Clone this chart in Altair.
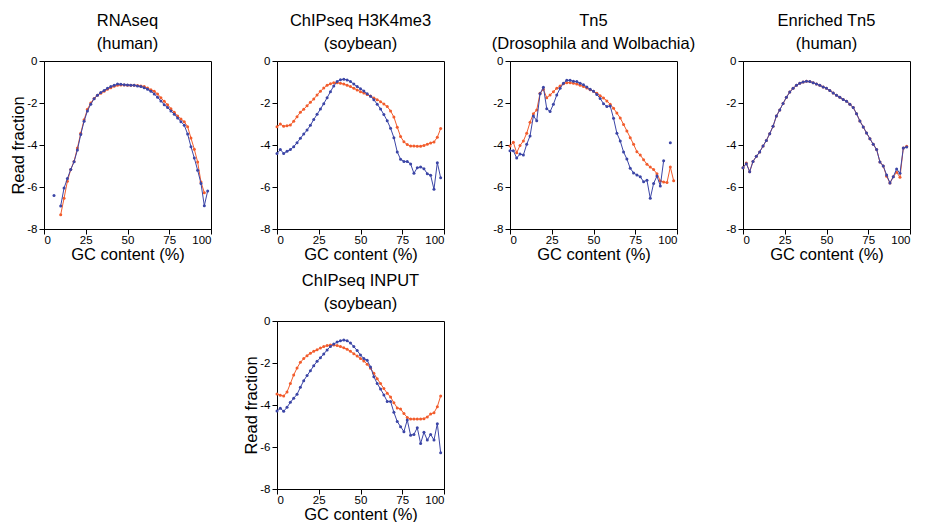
import altair as alt
import pandas as pd

GC = [0, 2, 4, 6, 8, 10, 12, 14, 16, 18, 20, 22, 24, 26, 28, 30, 32, 34, 36, 38,
      40, 42, 44, 46, 48, 50, 52, 54, 56, 58, 60, 62, 64, 66, 68, 70, 72, 74, 76, 78,
      80, 82, 84, 86, 88, 90, 92, 94, 96, 98]

TITLES = [["RNAseq", "(human)"],
          ["ChIPseq H3K4me3", "(soybean)"],
          ["Tn5", "(Drosophila and Wolbachia)"],
          ["Enriched Tn5", "(human)"],
          ["ChIPseq INPUT", "(soybean)"]]

rna_blue = [None, None, None, -6.4, None, -6.9, -6.05, -5.6, -5.17, -4.8,
            -4.24, -3.5, -2.87, -2.38, -2.06, -1.8, -1.63, -1.5, -1.4, -1.3,
            -1.22, -1.16, -1.1, -1.11, -1.13, -1.14, -1.15, -1.16, -1.19, -1.22,
            -1.27, -1.35, -1.44, -1.57, -1.73, -1.9, -2.08, -2.22, -2.38, -2.54,
            -2.71, -2.89, -3.06, -3.48, -4.08, -4.62, -5.2, -5.83, -6.89, -6.19]
rna_orange = [None, None, None, None, None, -7.32, -6.54, -5.73, -5.17, -4.78,
              -4.14, -3.44, -2.8, -2.3, -2.0, -1.78, -1.63, -1.54, -1.44, -1.35,
              -1.27, -1.2, -1.16, -1.14, -1.14, -1.15, -1.16, -1.16, -1.17, -1.19,
              -1.22, -1.29, -1.37, -1.44, -1.57, -1.75, -1.92, -2.08, -2.27, -2.44,
              -2.62, -2.76, -2.89, -3.13, -3.67, -4.2, -4.81, -5.76, -6.27, None]

k4_blue = [-4.41, -4.22, -4.4, -4.3, -4.22, -4.08, -3.89, -3.68, -3.48, -3.29,
           -3.06, -2.79, -2.54, -2.29, -2.03, -1.75, -1.46, -1.19, -0.98, -0.89,
           -0.87, -0.9, -0.98, -1.1, -1.22, -1.32, -1.43, -1.56, -1.68, -1.84,
           -2.06, -2.28, -2.55, -2.85, -3.2, -3.65, -4.33, -4.68, -4.79, -4.79,
           -4.9, -5.35, -5.08, -5.05, -5.13, -5.37, -5.44, -6.11, -4.84, -5.56]
k4_orange = [-3.13, -3.0, -3.11, -3.08, -3.05, -2.87, -2.65, -2.44, -2.3, -2.13,
             -1.97, -1.81, -1.62, -1.44, -1.29, -1.16, -1.08, -1.03, -1.03, -1.06,
             -1.1, -1.16, -1.22, -1.3, -1.38, -1.46, -1.52, -1.6, -1.67, -1.76,
             -1.84, -1.94, -2.05, -2.17, -2.38, -2.67, -3.15, -3.6, -3.85, -3.98,
             -4.05, -4.05, -4.06, -4.06, -4.02, -3.97, -3.9, -3.86, -3.63, -3.22]

tn5_blue = [-4.27, -4.27, -4.62, -4.43, -4.48, -3.97, -3.57, -2.62, -2.84, -1.56,
            -1.25, -2.27, -2.41, -2.06, -1.62, -1.3, -1.06, -0.92, -0.92, -0.97,
            -0.98, -1.06, -1.13, -1.24, -1.35, -1.44, -1.59, -1.79, -2.03, -2.17,
            -2.14, -2.73, -3.44, -3.81, -4.33, -4.67, -5.11, -5.33, -5.43, -5.51,
            -5.75, -5.68, -6.54, -5.83, -5.48, -5.95, -4.75, None, -3.89, None]
tn5_orange = [-4.05, -3.87, -4.37, -4.02, -3.81, -3.44, -2.92, -2.51, -2.33, -1.54,
              -1.35, -1.75, -1.62, -1.46, -1.3, -1.19, -1.08, -1.03, -1.03, -1.06,
              -1.1, -1.16, -1.21, -1.29, -1.37, -1.44, -1.54, -1.65, -1.76, -1.9,
              -2.06, -2.25, -2.48, -2.71, -3.02, -3.33, -3.65, -3.97, -4.32, -4.48,
              -4.7, -4.92, -5.05, -5.17, -5.37, -5.71, -5.76, -5.79, -5.05, -5.7]

etn5_blue = [-5.08, -4.89, -5.27, -4.78, -4.54, -4.33, -4.05, -3.78, -3.46, -3.11,
             -2.62, -2.33, -2.02, -1.73, -1.48, -1.3, -1.16, -1.06, -1.0, -0.97,
             -0.98, -1.03, -1.1, -1.16, -1.24, -1.3, -1.41, -1.52, -1.63, -1.73,
             -1.83, -1.92, -2.06, -2.22, -2.51, -2.86, -3.14, -3.43, -3.7, -3.97,
             -4.21, -4.81, -5.0, -5.43, -5.81, -5.51, -5.14, -5.35, -4.14, -4.1]
etn5_orange = [-5.08, -4.86, -5.27, -4.78, -4.54, -4.33, -4.05, -3.78, -3.46, -3.11,
               -2.62, -2.33, -2.02, -1.73, -1.48, -1.3, -1.16, -1.06, -1.0, -0.97,
               -0.98, -1.03, -1.1, -1.16, -1.24, -1.3, -1.41, -1.52, -1.63, -1.73,
               -1.83, -1.92, -2.06, -2.22, -2.51, -2.86, -3.14, -3.43, -3.7, -3.97,
               -4.21, -4.81, -5.0, -5.49, -5.81, -5.51, -5.3, -5.54, -4.14, -4.06]

inp_blue = [-4.29, -4.16, -4.3, -4.11, -3.87, -3.68, -3.49, -3.16, -2.84, -2.6,
            -2.37, -2.13, -1.92, -1.75, -1.57, -1.38, -1.21, -1.1, -1.0, -0.94,
            -0.9, -0.94, -1.05, -1.22, -1.41, -1.62, -1.79, -1.87, -2.19, -2.65,
            -2.98, -3.24, -3.52, -3.83, -3.83, -4.35, -4.79, -5.03, -5.27, -4.71,
            -5.44, -5.4, -5.08, -5.83, -5.3, -5.67, -5.4, -5.67, -4.89, -6.27]
inp_orange = [-3.48, -3.54, -3.57, -3.38, -2.98, -2.57, -2.24, -1.97, -1.79, -1.65,
              -1.54, -1.44, -1.37, -1.29, -1.22, -1.17, -1.14, -1.14, -1.17, -1.22,
              -1.27, -1.35, -1.44, -1.56, -1.67, -1.79, -1.9, -2.06, -2.25, -2.49,
              -2.75, -2.98, -3.22, -3.44, -3.62, -3.89, -4.14, -4.19, -4.41, -4.59,
              -4.67, -4.67, -4.67, -4.67, -4.65, -4.57, -4.43, -4.37, -4.08, -3.57]

BLUE = "#3b45a6"
ORANGE = "#f25c2c"
FONT = "Liberation Sans"
W, H = 167, 168


def rows_for(vals, name):
    rows = []
    seg = 0
    for g, v in zip(GC, vals):
        if v is None:
            seg += 1
            continue
        rows.append({"gc": g, "val": v, "series": name, "seg": f"{name}{seg}"})
    return pd.DataFrame(rows)


def panel(title, blue, orange, ytitle):
    xax = alt.Axis(values=[0, 25, 50, 75, 100], title="GC content (%)",
                   titlePadding=1, labelPadding=0, labelExpr="'' + datum.value")
    yargs = dict(values=[0, -2, -4, -6, -8], labelExpr="'' + datum.value",
                 titlePadding=0)
    yargs["title"] = "Read fraction" if ytitle else ""
    yax = alt.Axis(**yargs)
    layers = []
    for vals, name, col in [(orange, "orange", ORANGE), (blue, "blue", BLUE)]:
        df = rows_for(vals, name)
        base = alt.Chart(df).encode(
            x=alt.X("gc:Q", scale=alt.Scale(domain=[0, 100], nice=False), axis=xax),
            y=alt.Y("val:Q", scale=alt.Scale(domain=[-8, 0], nice=False), axis=yax),
        )
        layers.append(base.mark_line(color=col, strokeWidth=1).encode(detail="seg:N"))
        layers.append(base.mark_circle(color=col, size=9, opacity=1))
    return alt.layer(*layers).properties(
        width=W, height=H,
        title=alt.TitleParams(text=title),
    )


p1 = panel(TITLES[0], rna_blue, rna_orange, True)
p2 = panel(TITLES[1], k4_blue, k4_orange, False)
p3 = panel(TITLES[2], tn5_blue, tn5_orange, False)
p4 = panel(TITLES[3], etn5_blue, etn5_orange, False)
p5 = panel(TITLES[4], inp_blue, inp_orange, True)

blank = alt.Chart(pd.DataFrame({"a": [0]})).mark_point(opacity=0).encode(
    x=alt.X("a:Q", axis=None), y=alt.Y("a:Q", axis=None)
).properties(width=W, height=H, view=alt.ViewBackground(stroke="transparent"))

chart = alt.concat(
    p1, p2, p3, p4, blank, p5, columns=4,
    spacing={"row": 92, "column": 66}, bounds="flush"
).properties(
    padding={"left": 2, "top": 4, "right": 0, "bottom": 0}
).configure_view(
    stroke="black", strokeWidth=1
).configure_axis(
    grid=False, domainColor="black", domainWidth=1, tickColor="black",
    tickSize=5, labelFont=FONT, labelFontSize=11.5, labelColor="black",
    labelPadding=2, titleFont=FONT, titleFontSize=16.5, titleFontWeight="normal",
    titleColor="black"
).configure_title(
    font=FONT, fontSize=16.5, fontWeight="normal", color="black",
    lineHeight=23, offset=3, anchor="middle"
)

chart.save("out.html", embed_options={"renderer": "svg", "actions": False})
